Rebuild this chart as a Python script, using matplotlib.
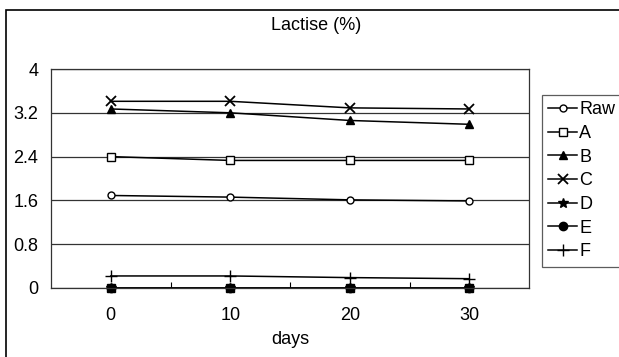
import numpy as np
import matplotlib
matplotlib.use("Agg")
import matplotlib.pyplot as plt
from matplotlib.patches import Rectangle

plt.rcParams["font.family"] = ["Liberation Sans", "DejaVu Sans"]

# data
days = [0, 10, 20, 30]
raw = [1.69, 1.66, 1.61, 1.59]
a = [2.40, 2.33, 2.33, 2.33]
b = [3.27, 3.20, 3.06, 2.99]
c = [3.41, 3.41, 3.29, 3.27]
d = [0.0, 0.0, 0.0, 0.0]
e = [0.0, 0.0, 0.0, 0.0]
f = [0.22, 0.22, 0.19, 0.17]

series = [
    ("Raw", raw, dict(marker="o", mfc="white", ms=5)),
    ("A", a, dict(marker="s", mfc="white", ms=6)),
    ("B", b, dict(marker="^", mfc="black", ms=6)),
    ("C", c, dict(marker="x", ms=7, mew=1.3)),
    ("D", d, dict(marker="*", ms=7)),
    ("E", e, dict(marker="o", mfc="black", ms=6)),
    ("F", f, dict(marker="+", ms=8, mew=1.0)),
]

fs = 13
fig = plt.figure(figsize=(6.19, 3.57), dpi=100)
W, H = 619.0, 357.0
ax = fig.add_axes([51 / W, 1 - 288 / H, (529 - 51) / W, (288 - 69) / H])

handles = []
for name, vals, style in series:
    (h,) = ax.plot(days, vals, color="black", lw=1.1, mec="black", label=name,
                   clip_on=False, **style)
    handles.append(h)
# the bottom series shows as filled squares in the plot
ax.plot(days, e, ls="none", marker="s", ms=6, color="black", clip_on=False)

ax.set_xlim(-5, 35)
ax.set_ylim(0, 4)
ax.set_yticks([0, 0.8, 1.6, 2.4, 3.2, 4])
ax.set_yticklabels(["0", "0.8", "1.6", "2.4", "3.2", "4"], fontsize=fs)
ax.set_xticks(days)
ax.set_xticklabels([str(x) for x in days], fontsize=fs)
ax.set_xticks([5, 15, 25], minor=True)
ax.tick_params(axis="x", which="major", length=0, pad=14)
ax.tick_params(axis="x", which="minor", direction="in", length=4, width=0.8)
ax.tick_params(axis="y", length=0, pad=9)
ax.grid(axis="y", color="#333333", lw=0.9)
for s in ax.spines.values():
    s.set_color("#333333")
    s.set_linewidth(0.9)
ax.set_xlabel("days", fontsize=fs, labelpad=5)

fig.text(316 / W, 1 - 25 / H, "Lactise (%)", ha="center", va="center", fontsize=fs)

# legend on the right edge
leg = fig.legend(
    handles=handles,
    loc="upper left",
    bbox_to_anchor=(542 / W, 1 - 95 / H),
    frameon=True,
    fontsize=fs,
    handlelength=1.6,
    handletextpad=0.1,
    labelspacing=0.37,
    borderpad=0.35,
    borderaxespad=0,
    fancybox=False,
)
leg.get_frame().set_edgecolor("#333333")
leg.get_frame().set_linewidth(0.9)

# outer frame of the figure
fig.patches.append(
    Rectangle((6 / W, -0.01), 1.0, 1 - 10 / H + 0.01, transform=fig.transFigure,
              fill=False, edgecolor="black", lw=1.2)
)

fig.savefig("out.png", dpi=100)
